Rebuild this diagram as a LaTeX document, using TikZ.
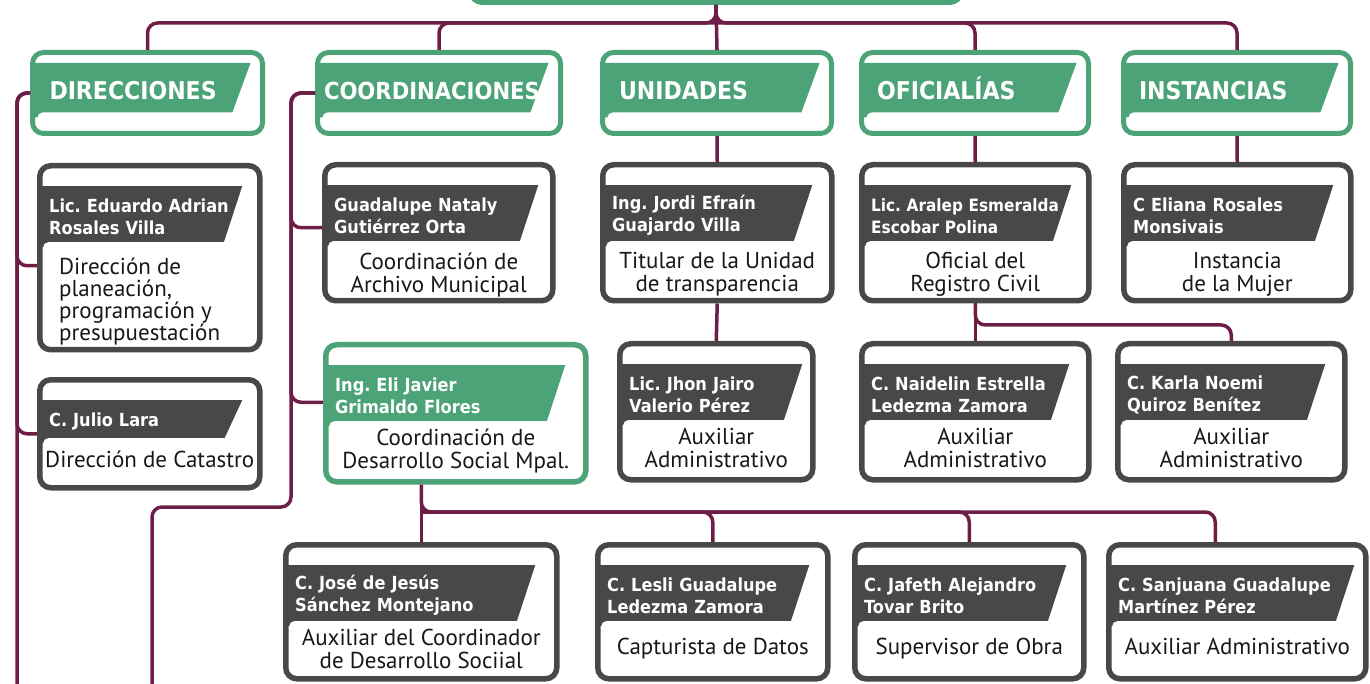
\documentclass[tikz,border=0pt]{standalone}
\usepackage{fontspec}
\setmainfont{PT Sans}
\newfontfamily\namefont{DejaVu Sans Condensed}
\usetikzlibrary{positioning}
\definecolor{orggreen}{RGB}{76,163,120}
\definecolor{cardgray}{RGB}{72,72,72}
\definecolor{linkred}{RGB}{110,30,70}
\definecolor{roletext}{RGB}{24,24,24}
\lineskiplimit=-20pt
\frenchspacing

\begin{document}
\begin{tikzpicture}
[
x=1pt, y=-1pt,
group/.style={rectangle, draw=orggreen, fill=white, line width=5pt, rounded corners=11pt, anchor=north west,
  minimum height=81pt, text width=196pt, text height=18pt, text depth=4pt, inner xsep=0pt, align=left, text=white,
  font=\namefont\bfseries\fontsize{24.5}{28}\selectfont,
  path picture={
    \fill [orggreen, sharp corners] ([yshift=-10.5pt]path picture bounding box.north west) -- ([xshift=-12pt,yshift=-10.5pt]path picture bounding box.north east)
      -- ([xshift=-32pt,yshift=16pt]path picture bounding box.south east) -- ([yshift=16pt]path picture bounding box.south west) -- cycle;
    \fill [white, rounded corners=5pt] ([xshift=5pt,yshift=21pt]path picture bounding box.south west) rectangle ([xshift=10pt,yshift=-10pt]path picture bounding box.south east);
  }},
card/.style={rectangle, draw=#1, fill=white, line width=5.5pt, rounded corners=11pt, anchor=north west, inner sep=0pt},
card/.default=cardgray,
namebar/.style={rectangle, fill=white, anchor=north west, minimum height=61pt, inner xsep=12pt, inner ysep=0pt, align=left, text=white,
  font=\namefont\bfseries\fontsize{18}{22}\selectfont,
  path picture={
    \fill [#1, sharp corners] (path picture bounding box.north west) -- (path picture bounding box.north east)
      -- ([xshift=-20pt]path picture bounding box.south east) -- (path picture bounding box.south west) -- cycle;
    \fill [white, rounded corners=5pt] ([xshift=6pt,yshift=5pt]path picture bounding box.south west) rectangle ([xshift=10pt,yshift=-10pt]path picture bounding box.south east);
  }},
namebar/.default=cardgray,
role/.style={anchor=north, align=center, inner sep=0pt, text=roletext, font=\fontsize{23}{23}\selectfont},
link/.style={draw=linkred, line width=3.5pt, rounded corners=10pt},
]
\useasboundingbox (0,0) rectangle (1370,684);

% categories
\node (root)  [rectangle, draw=orggreen, line width=5pt, rounded corners=11pt, minimum width=490pt, minimum height=60pt, anchor=south] at (716,5) {};
\node (direc) [group, minimum width=230pt]                   at (30,50)   {DIRECCIONES};
\node (coord) [group, minimum width=243pt, text width=230pt, font=\namefont\bfseries\fontsize{23.5}{28}\selectfont] at (315,50) {COORDINACIONES};
\node (unid)  [group, minimum width=229pt]                   at (600,50)  {UNIDADES};
\node (ofic)  [group, minimum width=227pt]                   at (859,50)  {OFICIALÍAS};
\node (inst)  [group, minimum width=227pt]                   at (1121,50) {INSTANCIAS};

% direcciones
\node (eduardo)   [card, minimum width=220pt, minimum height=184pt] at (37,163) {};
\node (eduardo-n) [namebar, text width=181pt, below right=23pt and 0pt of eduardo.north west] {Lic. Eduardo Adrian\\Rosales Villa};
\node (eduardo-r) [role, anchor=north west, align=left, font=\fontsize{23}{22}\selectfont, xshift=22pt, yshift=-10pt] at (eduardo-n.south west) {Dirección de\\planeación,\\programación y\\presupuestación};
\node (julio)     [card, minimum width=220pt, minimum height=108pt] at (37,377) {};
\node (julio-n)   [namebar, minimum height=43pt, text width=181pt, below right=23pt and 0pt of julio.north west] {C. Julio Lara};
\node (julio-r)   [role, yshift=-7pt] at (julio-n.south -| julio.north) {Dirección de Catastro};

% coordinaciones
\node (nataly)      [card, minimum width=228pt, minimum height=136pt] at (322,162) {};
\node (nataly-n)    [namebar, text width=192pt, below right=23pt and 0pt of nataly.north west] {Guadalupe Nataly\\Gutiérrez Orta};
\node (nataly-r)    [role, yshift=-6pt] at (nataly-n.south -| nataly.north) {Coordinación de\\Archivo Municipal};
\node (elijavier)   [card=orggreen, minimum width=260pt, minimum height=137pt] at (323,342) {};
\node (elijavier-n) [namebar=orggreen, text width=218pt, below right=23pt and 0pt of elijavier.north west] {Ing. Eli Javier\\Grimaldo Flores};
\node (elijavier-r) [role, yshift=-2pt] at (elijavier-n.south -| elijavier.north) {Coordinación de\\Desarrollo Social Mpal.};

% unidades, oficialias, instancias
\node (jordi)      [card, minimum width=229pt, minimum height=136pt] at (600,162) {};
\node (jordi-n)    [namebar, text width=188pt, below right=23pt and 0pt of jordi.north west] {Ing. Jordi Efraín\\Guajardo Villa};
\node (jordi-r)    [role, yshift=-6pt] at (jordi-n.south -| jordi.north) {Titular de la Unidad\\de transparencia};
\node (aralep)     [card, minimum width=227pt, minimum height=136pt] at (859,162) {};
\node (aralep-n)   [namebar, text width=188pt, font=\namefont\bfseries\fontsize{17}{22}\selectfont, below right=23pt and 0pt of aralep.north west] {Lic. Aralep Esmeralda\\Escobar Polina};
\node (aralep-r)   [role, yshift=-6pt] at (aralep-n.south -| aralep.north) {Oficial del\\Registro Civil};
\node (eliana)     [card, minimum width=227pt, minimum height=136pt] at (1121,162) {};
\node (eliana-n)   [namebar, text width=188pt, below right=23pt and 0pt of eliana.north west] {C Eliana Rosales\\Monsivais};
\node (eliana-r)   [role, yshift=-6pt] at (eliana-n.south -| eliana.north) {Instancia\\de la Mujer};

\node (jhon)       [card, minimum width=193pt, minimum height=136pt] at (617,341) {};
\node (jhon-n)     [namebar, text width=161pt, below right=23pt and 0pt of jhon.north west] {Lic. Jhon Jairo\\Valerio Pérez};
\node (jhon-r)     [role, yshift=-3pt] at (jhon-n.south -| jhon.north) {Auxiliar\\Administrativo};
\node (naidelin)   [card, minimum width=227pt, minimum height=136pt] at (859,341) {};
\node (naidelin-n) [namebar, text width=186pt, below right=23pt and 0pt of naidelin.north west] {C. Naidelin Estrella\\Ledezma Zamora};
\node (naidelin-r) [role, yshift=-3pt] at (naidelin-n.south -| naidelin.north) {Auxiliar\\Administrativo};
\node (karla)      [card, minimum width=227pt, minimum height=136pt] at (1115,341) {};
\node (karla-n)    [namebar, text width=186pt, below right=23pt and 0pt of karla.north west] {C. Karla Noemi\\Quiroz Benítez};
\node (karla-r)    [role, yshift=-3pt] at (karla-n.south -| karla.north) {Auxiliar\\Administrativo};

% desarrollo social
\node (jose)       [card, minimum width=271pt, minimum height=134pt] at (283,542) {};
\node (jose-n)     [namebar, text width=228pt, below right=23pt and 0pt of jose.north west] {C. José de Jesús\\Sánchez Montejano};
\node (jose-r)     [role, yshift=-3pt] at (jose-n.south -| jose.north) {Auxiliar del Coordinador\\de Desarrollo Sociial};
\node (lesli)      [card, minimum width=230pt, minimum height=134pt] at (595,542) {};
\node (lesli-n)    [namebar, text width=190pt, below right=23pt and 0pt of lesli.north west] {C. Lesli Guadalupe\\Ledezma Zamora};
\node (lesli-r)    [role, yshift=-12pt] at (lesli-n.south -| lesli.north) {Capturista de Datos};
\node (jafeth)     [card, minimum width=229pt, minimum height=134pt] at (852,542) {};
\node (jafeth-n)   [namebar, text width=190pt, below right=23pt and 0pt of jafeth.north west] {C. Jafeth Alejandro\\Tovar Brito};
\node (jafeth-r)   [role, yshift=-12pt] at (jafeth-n.south -| jafeth.north) {Supervisor de Obra};
\node (sanjuana)   [card, minimum width=257pt, minimum height=134pt] at (1106,542) {};
\node (sanjuana-n) [namebar, text width=224pt, below right=23pt and 0pt of sanjuana.north west] {C. Sanjuana Guadalupe\\Martínez Pérez};
\node (sanjuana-r) [role, yshift=-12pt] at (sanjuana-n.south -| sanjuana.north) {Auxiliar Administrativo};

% connectors
\coordinate (bus)        at (716,23);
\coordinate (direc-end)  at (17,690);
\coordinate (coord-bend) at (291,507);
\coordinate (coord-end)  at (152,690);
\coordinate (bus3)       at (975,325);
\coordinate (bus4)       at (425,512);

\draw [link] (root.south) -- (unid.north);
\draw [link] (direc.north) |- (bus) -- (root.south);
\draw [link] (inst.north) |- (bus) -- (root.south);
\draw [link] (coord.north) |- (bus);
\draw [link] (ofic.north) |- (bus);

\draw [link] (direc.west) -| (direc-end);
\draw [link] (direc.west) -| ([yshift=-8pt]eduardo.west -| direc-end) -- ([yshift=-8pt]eduardo.west);
\draw [link] (direc.west) -| (julio.west -| direc-end) -- (julio.west);
\draw [link] (coord.west) -| (coord-bend) -| (coord-end);
\draw [link] (coord.west) -| ([yshift=5pt]nataly.west -| coord-bend) -- ([yshift=5pt]nataly.west);
\draw [link] (coord.west) -| ([yshift=11pt]elijavier.west -| coord-bend) -- ([yshift=11pt]elijavier.west);

\draw [link] (unid.south) -- (jordi.north);
\draw [link] (ofic.south) -- (aralep.north);
\draw [link] (inst.south) -- (eliana.north);
\draw [link] (jordi.south) -- (jhon.north);
\draw [link] (aralep.south) -- (naidelin.north);
\draw [link] (aralep.south) |- (karla.north |- bus3) -- (karla.north);

\draw [link] (elijavier.south -| jose.north) -- (jose.north);
\draw [link] (elijavier.south -| jose.north) |- ([xshift=-22pt]sanjuana.north |- bus4) -- ([xshift=-22pt]sanjuana.north);
\draw [link] (jose.north |- bus4) -| (lesli.north);
\draw [link] (jose.north |- bus4) -| (jafeth.north);
\end{tikzpicture}
\end{document}
